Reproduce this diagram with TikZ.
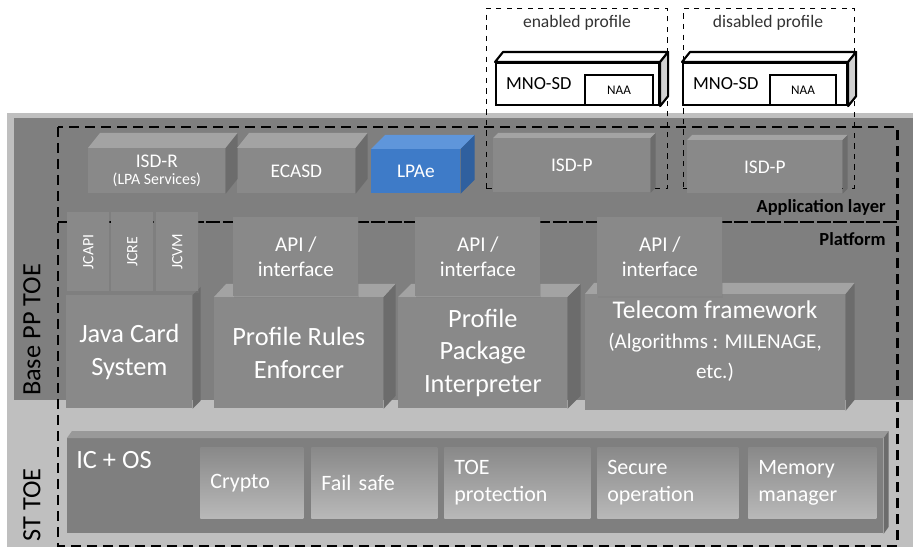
\documentclass[tikz,border=0pt]{standalone}
\usepackage{fontspec}
\setmainfont{Carlito}
\usetikzlibrary{shadows}

\definecolor{lightbg}{HTML}{BFBFBF}
\definecolor{darkbg}{HTML}{7F7F7F}
\definecolor{boxgray}{HTML}{898989}
\definecolor{topgray}{HTML}{A3A3A3}
\definecolor{sidegray}{HTML}{6C6C6C}
\definecolor{lpablue}{HTML}{3E7BC8}
\definecolor{lpatop}{HTML}{5F96DB}
\definecolor{lpaside}{HTML}{2F609F}

\begin{document}
\begin{tikzpicture}[x=0.02cm, y=-0.02cm,
  every node/.style={inner sep=0pt, text=white, anchor=north west},
  sz/.style 2 args={minimum width=#1*0.02cm, minimum height=#2*0.02cm},
  box/.style={fill=boxgray, align=center},
  flatbox/.style={box, drop shadow={shadow xshift=0.6pt, shadow yshift=-0.8pt, opacity=0.35}},
  topface/.style={fill=topgray},
  sideface/.style={fill=sidegray},
  unit/.style={top color=boxgray, bottom color=lightbg!90!darkbg, align=left, inner xsep=0.2cm, minimum height=71*0.02cm, font=\fontsize{12.5}{15.3}\selectfont},
  lbl/.style={text=black, anchor=center},
  big/.style={font=\fontsize{15}{18.5}\selectfont},
  mid/.style={font=\fontsize{12}{14.2}\selectfont},
  small/.style={font=\fontsize{11}{10}\selectfont},
  wirebox/.style={draw=black, fill=white, line width=1.2pt, text=black}]
\useasboundingbox (0,0) rectangle (913,547);
\fill[lightbg] (7,113) rectangle (913,547);
\fill[darkbg] (14,118) rectangle (913,400);
\node[lbl, rotate=90, big] (basepp) at (32,330) {Base PP TOE};
\node[lbl, rotate=90, big] (sttoe) at (32,505) {ST TOE};

% TOE boundary and layer split
\draw[line width=1.7pt, dash pattern=on 0.2cm off 0.12cm] (58,127) rectangle (897,546);
\draw[line width=1.1pt, dash pattern=on 0.28cm off 0.05cm] (58,222) -- (897,222);
\node[lbl, anchor=east, font=\bfseries\fontsize{10.5}{12}\selectfont] (applayer) at (886,207) {Application layer};
\node[lbl, anchor=east, font=\bfseries\fontsize{10.5}{12}\selectfont] (platform) at (886,239) {Platform};

% profiles
\node[draw=black, dashed, thin, sz={181}{180}] (enprof) at (486,8) {};
\node[draw=black, dashed, thin, sz={171}{180}] (disprof) at (683,8) {};
\node[lbl, text=black!80, font=\fontsize{10}{12}\selectfont] (enlbl) at (577,23) {enabled profile};
\node[lbl, text=black!80, font=\fontsize{10}{12}\selectfont] (dislbl) at (768,23) {disabled profile};
\node[wirebox, sz={163}{42}, align=left, inner xsep=0.2cm, text width=2.86cm, font=\fontsize{10.5}{12}\selectfont] (mno1) at (495,62) {MNO-SD};
\node[wirebox, sz={164}{42}, align=left, inner xsep=0.2cm, text width=2.88cm, font=\fontsize{10.5}{12}\selectfont] (mno2) at (682,62) {MNO-SD};
\foreach \n in {mno1, mno2} {
  \filldraw[fill=white, line width=1.2pt, line join=round] (\n.north west) -- ++(8,-10) -- ([shift={(8,-10)}]\n.north east) -- (\n.north east) -- cycle;
  \filldraw[fill=black!18, line width=1.2pt, line join=round] (\n.north east) -- ++(8,-10) -- ([shift={(8,-10)}]\n.south east) -- (\n.south east) -- cycle;
}
\node[wirebox, sz={68}{30}, font=\fontsize{7.5}{9}\selectfont] (naa1) at (584,74) {NAA};
\node[wirebox, sz={66}{30}, font=\fontsize{7.5}{9}\selectfont] (naa2) at (769,74) {NAA};

% application layer
\node[box, sz={137}{45}, small] (isdr) at (88,148) {ISD-R\\{\fontsize{9}{10}\selectfont (LPA Services)}};
\node[box, sz={118}{45}, small] (ecasd) at (237,148) {ECASD};
\node[box, sz={157}{54}, small] (isdp1) at (493,138) {ISD-P};
\node[box, sz={155}{53}, small] (isdp2) at (687,140) {ISD-P};
\foreach \n/\dx/\dy in {isdr/12/15, ecasd/12/15, isdp1/5/5, isdp2/5/5} {
  \fill[topface] (\n.north west) -- ++(\dx,-\dy) -- ([shift={(\dx,-\dy)}]\n.north east) -- (\n.north east) -- cycle;
  \fill[sideface] (\n.north east) -- ++(\dx,-\dy) -- ([shift={(\dx,-\dy)}]\n.south east) -- (\n.south east) -- cycle;
}
\node[box, fill=lpablue, sz={89}{44}, small] (lpae) at (371,149) {LPAe};
\fill[lpatop] (lpae.north west) -- ++(14,-14) -- ([shift={(14,-14)}]lpae.north east) -- (lpae.north east) -- cycle;
\fill[lpaside] (lpae.north east) -- ++(14,-14) -- ([shift={(14,-14)}]lpae.south east) -- (lpae.south east) -- cycle;

% platform
\node[box, sz={126}{113}, big] (jcs) at (66,295) {Java Card\\System};
\fill[sideface] (jcs.north east) -- ++(8,-8) -- ([shift={(8,-8)}]jcs.south east) -- (jcs.south east) -- cycle;
\node[box, sz={169}{111}, big] (pre) at (214,297) {Profile Rules\\Enforcer};
\node[box, sz={169}{111}, big] (ppi) at (398,297) {Profile\\Package\\Interpreter};
\node[box, sz={260}{116}] (tf) at (585,294) {};
\node[anchor=center, align=center, font=\fontsize{14.5}{17}\selectfont] (tftext) at (715,341) {Telecom framework\\{\fontsize{12}{14}\selectfont(Algorithms : MILENAGE,}\\{\fontsize{12}{14}\selectfont etc.)}};
\foreach \n/\dx/\dy in {pre/12/13, ppi/13/13, tf/9/11} {
  \fill[topface] (\n.north west) -- ++(\dx,-\dy) -- ([shift={(\dx,-\dy)}]\n.north east) -- (\n.north east) -- cycle;
  \fill[sideface] (\n.north east) -- ++(\dx,-\dy) -- ([shift={(\dx,-\dy)}]\n.south east) -- (\n.south east) -- cycle;
}
\foreach \n/\x/\t in {jcapi/67/JCAPI, jcre/111/JCRE, jcvm/156/JCVM}
  \node[flatbox, sz={42}{79}, font=\fontsize{9}{10}\selectfont] (\n) at (\x,212) {\rotatebox{90}{\t}};
\foreach \n/\x in {api1/233, api2/415, api3/597}
  \node[flatbox, sz={125}{79}, mid] (\n) at (\x,217) {API /\\interface};

% IC + OS
\node[fill=darkbg, sz={816}{95}] (icos) at (67,438) {};
\fill[fill=black!40] (icos.north west) -- ++(5,-7) -- ([shift={(5,-7)}]icos.north east) -- (icos.north east) -- cycle;
\fill[sideface] (icos.north east) -- ++(5,-7) -- ([shift={(5,-7)}]icos.south east) -- (icos.south east) -- cycle;
\node[big, anchor=base west] (icoslbl) at (76,468) {IC + OS};
\foreach \n/\x/\w/\t in {crypto/200/1.66cm/Crypto, failsafe/311/2.12cm/Fail safe, toeprot/444/2.52cm/TOE\\protection, secop/597/2.42cm/Secure\\operation, memmgr/748/2.16cm/Memory\\manager}
  \node[unit, text width=\w] (\n) at (\x,447) {\t};
\end{tikzpicture}
\end{document}
